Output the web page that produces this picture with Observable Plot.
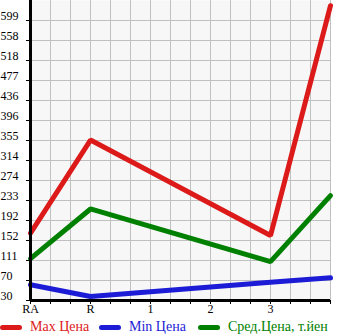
<!DOCTYPE html>
<html><head><meta charset="utf-8">
<script src="https://cdn.jsdelivr.net/npm/d3@7"></script>
<script src="https://cdn.jsdelivr.net/npm/@observablehq/plot@0.6"></script>
<style>
body{margin:0;background:#fff;font-family:"Liberation Serif",serif;}
#chart svg{display:block;}
#legend{display:flex;align-items:center;height:16px;margin-top:1px;font-size:14px;white-space:nowrap;}
.item{display:flex;align-items:center;}
.sw{display:inline-block;width:22px;height:5px;border-radius:3px;margin-right:8px;}
</style></head>
<body><div id="chart"></div><div id="legend"></div>
<script>
const categories = ["RA","R","1","2","3",""];
const maxPrice = [167, 356, null, null, 162, 629];
const minPrice = [62, 38, null, null, 67, 76];
const avgPrice = [115, 216, null, null, 109, 243];
const yTickLabels = ["30","70","111","152","192","233","274","314","355","396","436","477","518","558","599"];
const seriesNames = ["Max Цена","Min Цена","Сред.Цена, т.йен"];
const seriesColors = ["#dc1a1a","#1c1cd6","#008000"];

const yMin = +yTickLabels[0];
const yStep = (+yTickLabels[yTickLabels.length-1] - yMin) / (yTickLabels.length - 1);
const yTicks = yTickLabels.map((_, i) => yMin + i * yStep);
const yMax = yMin + yTickLabels.length * yStep;
const xMax = categories.length - 1;
const xMinor = d3.range(0, xMax + 1e-9, 1/3);

const rows = [];
[maxPrice, minPrice, avgPrice].forEach((arr, s) => arr.forEach((v, i) => {
  if (v != null) rows.push({series: seriesNames[s], i, v});
}));

const chart = Plot.plot({
  width: 345, height: 318,
  marginLeft: 30, marginRight: 15, marginTop: 0, marginBottom: 18,
  style: {fontFamily: "Liberation Serif, serif", fontSize: "12px", color: "#000", background: "#fff"},
  x: {type: "linear", domain: [0, xMax], label: null},
  y: {domain: [yMin, yMax], label: null},
  color: {domain: seriesNames, range: seriesColors},
  marks: [
    Plot.frame({fill: "#f7f7f7", stroke: null}),
    Plot.ruleX(xMinor, {stroke: "#c0c0c0", strokeWidth: 1}),
    Plot.ruleY(yTicks, {stroke: "#c0c0c0", strokeWidth: 1}),
    Plot.axisY({ticks: yTicks, tickSize: 4, tickFormat: () => "", stroke: "#000", label: null}),
    Plot.text(yTicks, {y: d => d, text: (d, i) => yTickLabels[i], frameAnchor: "left", textAnchor: "start", dx: -30, dy: -4, fill: "#000", fontSize: 12}),
    Plot.axisX({ticks: xMinor, tickSize: 4, tickFormat: () => "", stroke: "#000", label: null}),
    Plot.axisX({ticks: d3.range(0, xMax), tickSize: 0, tickPadding: 4, tickFormat: i => categories[i], fill: "#000", label: null, fontSize: 12}),
    Plot.line(rows, {x: "i", y: "v", z: "series", stroke: "series", strokeWidth: 5, strokeLinecap: "round", strokeLinejoin: "miter"}),
    Plot.ruleX([0], {stroke: "#000", strokeWidth: 3}),
    Plot.ruleY([yMin], {stroke: "#000", strokeWidth: 3})
  ]
});
document.getElementById("chart").appendChild(chart);

const legend = document.getElementById("legend");
seriesNames.forEach((n, k) => {
  const it = document.createElement("div");
  it.className = "item";
  it.style.width = k < 2 ? "99px" : "auto";
  it.innerHTML = `<span class="sw" style="background:${seriesColors[k]}"></span><span style="color:${seriesColors[k]}">${n}</span>`;
  legend.appendChild(it);
});
</script></body></html>
